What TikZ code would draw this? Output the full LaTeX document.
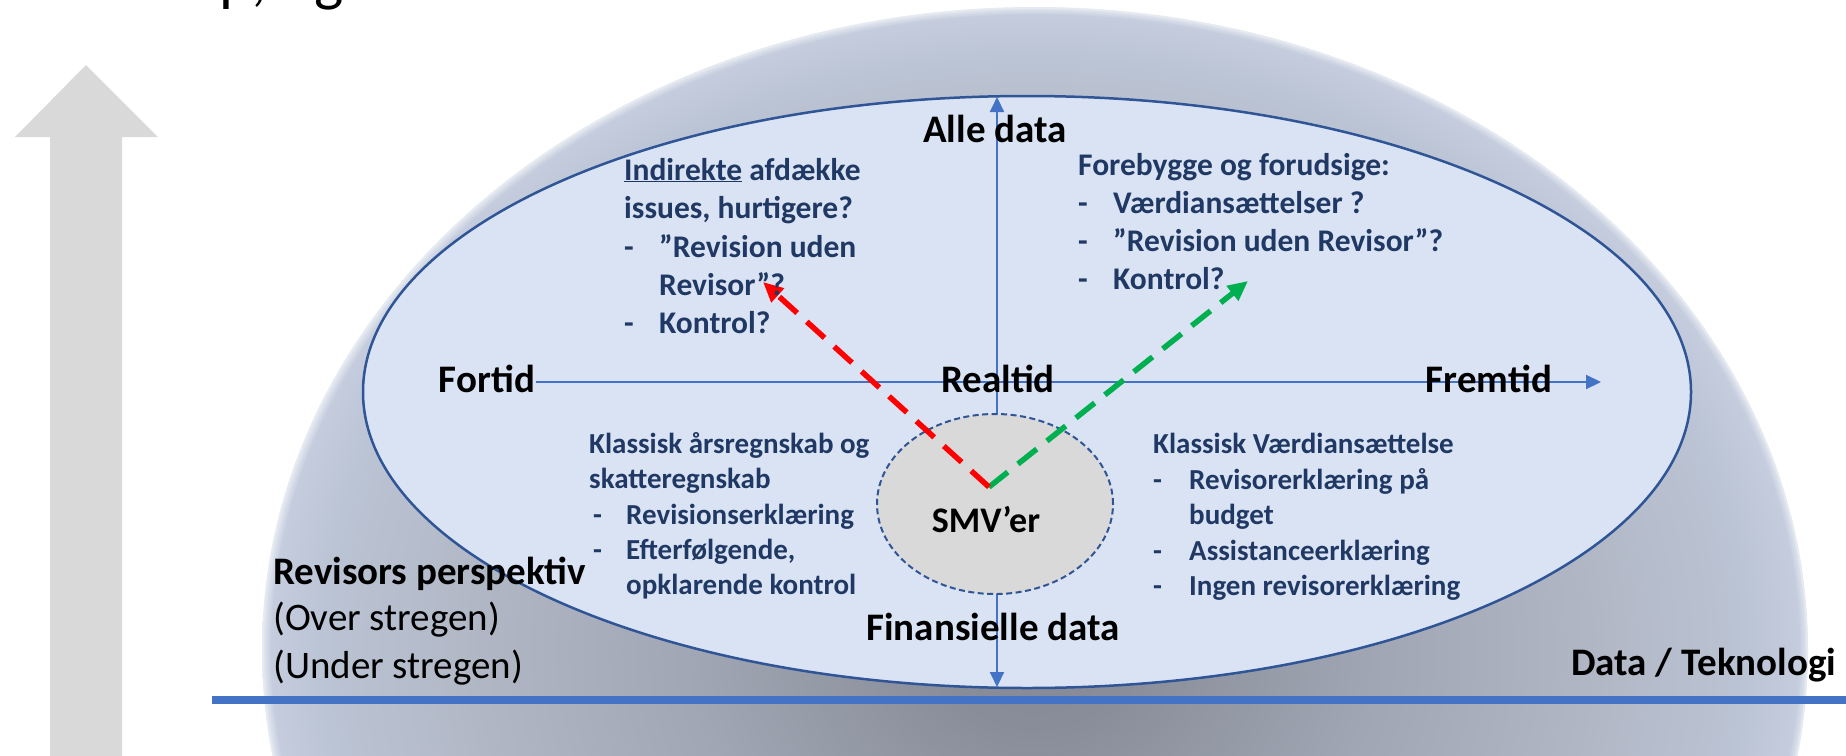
\documentclass[tikz,border=0pt]{standalone}
\usepackage{fontspec}
\setmainfont{Carlito}
\usetikzlibrary{arrows.meta,shapes.geometric}
\definecolor{txtblue}{HTML}{203864}
\definecolor{axisblue}{HTML}{4472C4}
\definecolor{ellfill}{HTML}{DAE3F3}
\definecolor{ellline}{HTML}{2F5597}
\definecolor{arrowgrey}{HTML}{D9D9D9}
\definecolor{smvfill}{HTML}{D9D9D9}
\definecolor{redarrow}{HTML}{FF0000}
\definecolor{greenarrow}{HTML}{00B050}
\definecolor{dCa}{HTML}{868A97}
\definecolor{dCb}{HTML}{898D9A}
\definecolor{dCc}{HTML}{A0A6B3}
\definecolor{dCd}{HTML}{AEB4C1}
\definecolor{dCe}{HTML}{B6BDCC}
\definecolor{dCf}{HTML}{BBC4D4}
\definecolor{dCg}{HTML}{C4CCDD}
\definecolor{dCh}{HTML}{E6EAF1}
\pgfdeclareradialshading{domeshade}{\pgfpointorigin}{color(0bp)=(dCa); color(3bp)=(dCb); color(11bp)=(dCc); color(17bp)=(dCd); color(20.5bp)=(dCe); color(23bp)=(dCf); color(24.7bp)=(dCg); color(25bp)=(dCh); color(50bp)=(dCh)}
\tikzset{
  lbl/.style={font=\fontsize{39}{47}\selectfont\bfseries, text=black, inner sep=0pt, anchor=base},
  side/.style={font=\fontsize{39}{47}\selectfont, text=black, inner sep=0pt, anchor=base west},
  bodyT/.style={font=\fontsize{31.5}{38}\selectfont\bfseries, text=txtblue, inner sep=0pt, anchor=base west},
  bodyB/.style={font=\fontsize{29}{35}\selectfont\bfseries, text=txtblue, inner sep=0pt, anchor=base west},
  axis/.style={draw=axisblue, line width=2pt},
  dasharrow/.style={line width=5.5pt, dash pattern=on 24pt off 13pt, -{Triangle[length=20pt,width=18pt]}},
}
\begin{document}
\begin{tikzpicture}[x=1pt,y=-1pt]
\useasboundingbox (0,0) rectangle (1846,755);
% cut-off title
\node[anchor=base west, font=\fontsize{62}{70}\selectfont, inner sep=0pt] (title) at (219,-1) {p,\hspace{47pt}g};
% big grey arrow
\fill[arrowgrey] (50,756) -- (50,137) -- (15,137) -- (86,65) -- (158,137) -- (122,137) -- (122,756) -- cycle;
% dome
\shade[shading=domeshade] (1035,650) ellipse[x radius=773pt, y radius=643pt];
\draw[color=dCh, line width=1.5pt] (1035,650) ellipse[x radius=772pt, y radius=642pt];
% inner ellipse
\draw[ellline, fill=ellfill, line width=2.5pt] (1027,392) ellipse[x radius=664pt, y radius=296pt];
% axes
\coordinate (vtop) at (997,97);
\coordinate (vbot) at (997,687);
\coordinate (hl) at (536,382);
\coordinate (hr) at (1601,382);
\draw[axis, {Triangle[length=15pt,width=14pt]}-{Triangle[length=15pt,width=14pt]}] (vtop) -- (vbot);
\draw[axis, -{Triangle[length=15pt,width=14pt]}] (hl) -- (hr);
% SMV circle
\node[ellipse, draw=ellline, fill=smvfill, line width=2pt, dash pattern=on 6pt off 3.5pt, minimum width=236pt, minimum height=180pt, inner sep=0pt] (smv) at (995,504) {};
\node[lbl, font=\fontsize{36}{43}\selectfont\bfseries] (smvlbl) at (986,532) {SMV’er};
% dashed arrows
\coordinate (vtx) at (989,487);
\coordinate (redtip) at (763,282);
\coordinate (greentip) at (1248,281);
\draw[dasharrow, greenarrow] (vtx) -- (greentip);
\draw[dasharrow, redarrow] (vtx) -- (redtip);
% base line
\coordinate (lineL) at (212,700);
\coordinate (lineR) at (1846,700);
\draw[axisblue, line width=8pt] (lineL) -- (lineR);
% axis labels
\node[lbl] (alle) at (995,142) {Alle data};
\node[lbl] (fortid) at (487,392) {Fortid};
\node[lbl] (realtid) at (998,392) {Realtid};
\node[lbl] (fremtid) at (1489,392) {Fremtid};
\node[lbl] (finans) at (993,640) {Finansielle data};
% side texts
\node[side, font=\fontsize{39}{47}\selectfont\bfseries] (revp) at (273,584) {Revisors perspektiv};
\node[side] (over) at (273,630) {(Over stregen)};
\node[side] (under) at (273,678) {(Under stregen)};
\node[side, font=\fontsize{39}{47}\selectfont\bfseries] (datatek) at (1571,675) {Data / Teknologi};
% top-left block
\node[bodyT] (tl1) at (624,180) {\underline{Indirekte} afdække};
\node[bodyT] (tl2) at (624,218) {issues, hurtigere?};
\node[bodyT] (tl3) at (624,257) {\makebox[35pt][l]{-}”Revision uden};
\node[bodyT] (tl4) at (659,295) {Revisor”?};
\node[bodyT] (tl5) at (624,333) {\makebox[35pt][l]{-}Kontrol?};
% top-right block
\node[bodyT] (tr1) at (1078,175) {Forebygge og forudsige:};
\node[bodyT] (tr2) at (1078,213) {\makebox[35pt][l]{-}Værdiansættelser ?};
\node[bodyT] (tr3) at (1078,251) {\makebox[35pt][l]{-}”Revision uden Revisor”?};
\node[bodyT] (tr4) at (1078,289) {\makebox[35pt][l]{-}Kontrol?};
% bottom-left block
\node[bodyB] (bl1) at (589,453) {Klassisk årsregnskab og};
\node[bodyB] (bl2) at (589,488) {skatteregnskab};
\node[bodyB] (bl3) at (589,524) {\makebox[37pt][l]{\hspace{4pt}-}Revisionserklæring};
\node[bodyB] (bl4) at (589,559) {\makebox[37pt][l]{\hspace{4pt}-}Efterfølgende,};
\node[bodyB] (bl5) at (626,594) {opklarende kontrol};
% bottom-right block
\node[bodyB] (br1) at (1153,453) {Klassisk Værdiansættelse};
\node[bodyB] (br2) at (1153,489) {\makebox[36pt][l]{-}Revisorerklæring på};
\node[bodyB] (br3) at (1189,524) {budget};
\node[bodyB] (br4) at (1153,560) {\makebox[36pt][l]{-}Assistanceerklæring};
\node[bodyB] (br5) at (1153,595) {\makebox[36pt][l]{-}Ingen revisorerklæring};
\end{tikzpicture}
\end{document}
